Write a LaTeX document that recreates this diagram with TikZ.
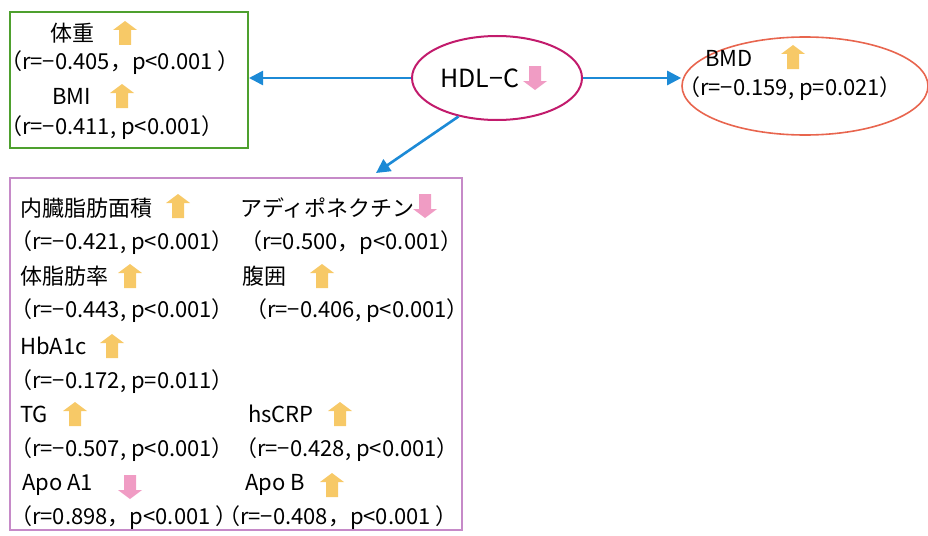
\documentclass[tikz,border=0pt]{standalone}
\usepackage{fontspec}
\setmainfont{Noto Sans CJK JP}
\usepackage{xcolor}
\usepackage{tikz}
\usetikzlibrary{arrows.meta,positioning,shapes.geometric}

\definecolor{linkblue}{HTML}{1C8AD6}
\definecolor{upyel}{HTML}{F7C967}
\definecolor{dnpink}{HTML}{F09CC4}
\definecolor{boxgreen}{HTML}{4EA02E}
\definecolor{boxpurple}{HTML}{C68AC8}
\definecolor{hdlred}{HTML}{C21B6C}
\definecolor{bmdred}{HTML}{E8654E}

\tikzset{
  uparr/.pic={\fill[upyel] (-6,12) -- (-6,-3) -- (-12,-3) -- (0,-12) -- (12,-3) -- (6,-3) -- (6,12) -- cycle;},
  dnarr/.pic={\fill[dnpink] (-6,-12) -- (-6,3) -- (-12,3) -- (0,12) -- (12,3) -- (6,3) -- (6,-12) -- cycle;},
  lbl/.style={anchor=west, inner sep=0pt, font=\fontsize{22}{25}\selectfont},
  link/.style={linkblue, line width=2.6pt, -{Triangle[length=14pt,width=14pt]}}
}

\begin{document}
\begin{tikzpicture}[x=1pt,y=-1pt]
        \useasboundingbox (0,0) rectangle (928,535);

        % Centre and the two ellipses
        \node[ellipse, draw=hdlred, line width=2pt, minimum width=170pt, minimum height=84pt] (hdl) at (497,78) {};
        \node[ellipse, draw=bmdred, line width=1.6pt, minimum width=246pt, minimum height=98pt] (bmd) at (805,86) {};

        % Boxes
        \node[draw=boxgreen, line width=2pt, minimum width=238pt, minimum height=136pt] (body) at (129,80) {};
        \node[draw=boxpurple, line width=2pt, minimum width=452pt, minimum height=352pt] (lab) at (236,354) {};

        % Texts
        \node[lbl, font=\fontsize{25}{28}\selectfont] (hdlt) at (440,78) {HDL−C};
        \node[lbl] (bmdt) at (705,58) {BMD};
        \node[lbl] (bmdr) at (678,89) {（r=−0.159, p=0.021）};

        \node[lbl] (wt)   at (50,33)  {体重};
        \node[lbl] (wtr)  at (0,63)   {（r=−0.405，p<0.001 ）};
        \node[lbl] (bmi)  at (52,96)  {BMI};
        \node[lbl] (bmir) at (0,128)  {（r=−0.411, p<0.001）};

        \node[lbl] (vfa)   at (20,208)  {内臓脂肪面積};
        \node[lbl] (adpn)  at (240,208) {アディポネクチン};
        \node[lbl] (vfar)  at (10,243)  {（r=−0.421, p<0.001）};
        \node[lbl] (adpnr) at (240,243) {（r=0.500，p<0.001）};
        \node[lbl] (bfp)   at (20,276)  {体脂肪率};
        \node[lbl] (wc)    at (242,276) {腹囲};
        \node[lbl] (bfpr)  at (10,311)  {（r=−0.443, p<0.001）};
        \node[lbl] (wcr)   at (245,311) {（r=−0.406, p<0.001）};
        \node[lbl] (hba)   at (20,346)  {HbA1c};
        \node[lbl] (hbar)  at (10,382)  {（r=−0.172, p=0.011）};
        \node[lbl] (tg)    at (20,414)  {TG};
        \node[lbl] (crp)   at (248,414) {hsCRP};
        \node[lbl] (tgr)   at (10,450)  {（r=−0.507, p<0.001）};
        \node[lbl] (crpr)  at (235,450) {（r=−0.428, p<0.001）};
        \node[lbl] (apoa)  at (22,485)  {Apo A1};
        \node[lbl] (apob)  at (245,485) {Apo B};
        \node[lbl] (apoar) at (10,518)  {（r=0.898，p<0.001 ）};
        \node[lbl] (apobr) at (218,518) {（r=−0.408，p<0.001 ）};

        % Up and down marks
        \foreach \p in {(125,33),(122,96),(793,57),(178,206),(130,276),(322,276),(112,346),(75,414),(340,414),(332,485)}
          \pic at \p {uparr};
        \foreach \p in {(535,78),(425,206),(130,487)}
          \pic at \p {dnarr};

        % Links
        \coordinate (labin) at (376,173);
        \draw[link] (hdl.west) -- (hdl.west -| body.east);
        \draw[link] (hdl.east) -- (hdl.east -| bmd.west);
        \draw[link] (hdl.-135) -- (labin);
      \end{tikzpicture}
\end{document}
